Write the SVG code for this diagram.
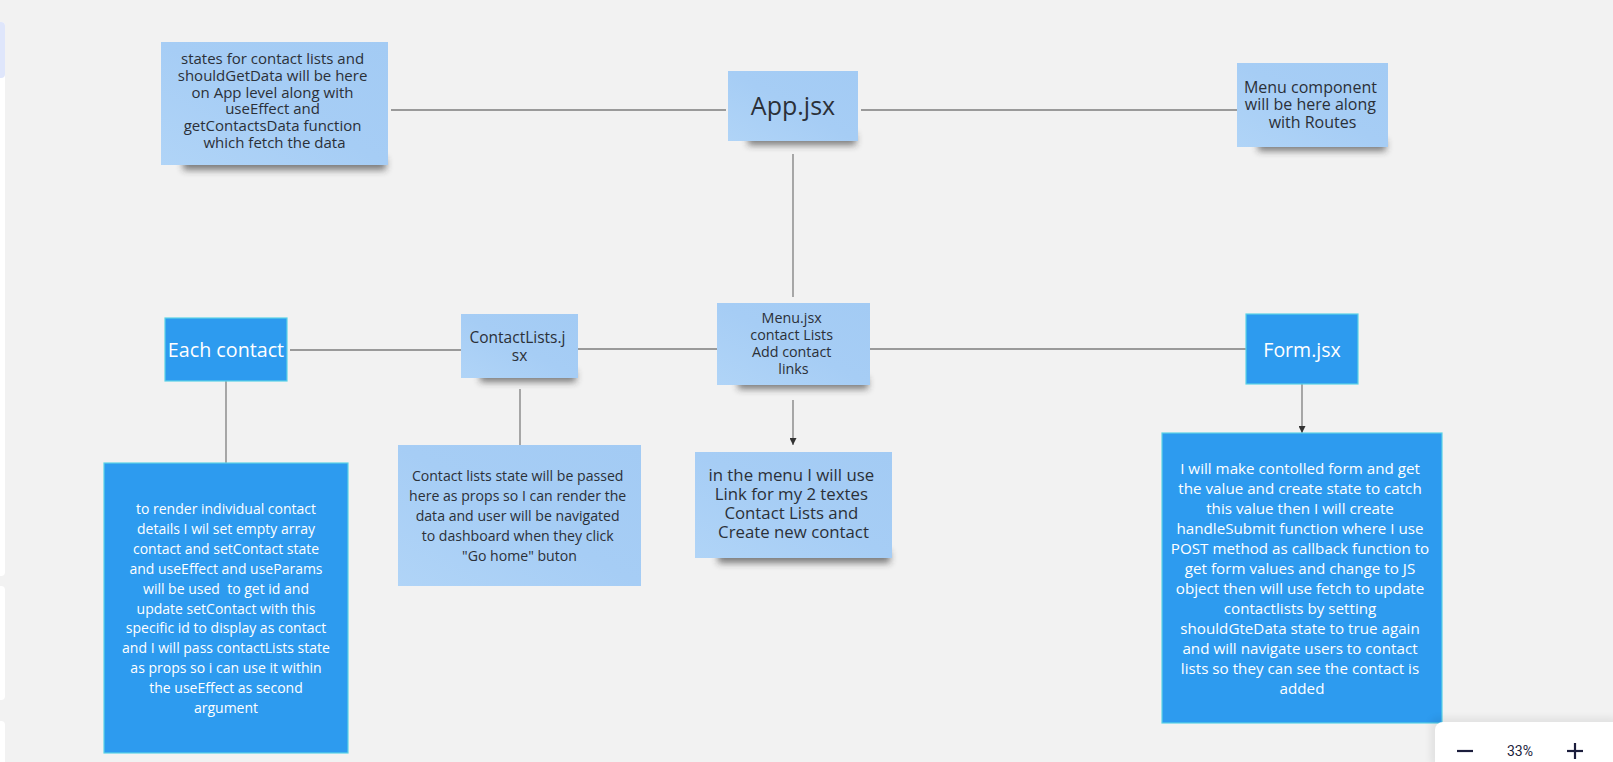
<svg xmlns="http://www.w3.org/2000/svg" width="1613" height="762" viewBox="0 0 1613 762">
  <defs>
    <style>
      .card { fill: #2d9bef; stroke: #5ad3e6; stroke-width: 1.2; }
      .t { font-family: "Open Sans", "Noto Sans", sans-serif; text-anchor: middle; fill: #2b3038; }
      .w { fill: #ffffff; }
      .wire { stroke: #7d7d7d; stroke-width: 1.3; fill: none; }
      .shadow { fill: #2a2a2a; opacity: 0.6; filter: url(#soft); }
    </style>
    <filter id="soft" x="-20%" y="-100%" width="140%" height="300%">
      <feGaussianBlur stdDeviation="3.5"/>
    </filter>
    <linearGradient id="noteShade" x1="0" y1="1" x2="1" y2="0">
      <stop offset="0" stop-color="#b0d4f7"/>
      <stop offset="0.5" stop-color="#a6cdf5"/>
      <stop offset="1" stop-color="#a3cbf4"/>
    </linearGradient>
    <marker id="arrow" viewBox="0 0 8 8" refX="8" refY="4" markerWidth="7" markerHeight="7" markerUnits="userSpaceOnUse" orient="auto">
      <path d="M0,0 L8,4 L0,8 z" fill="#333"/>
    </marker>
  </defs>

  <!-- canvas -->
  <rect x="0" y="0" width="1613" height="762" fill="#f2f2f2"/>

  <!-- left toolbar edge -->
  <g id="toolbar-edge">
    <rect x="-6" y="22" width="11" height="554" rx="4" fill="#ffffff"/>
    <rect x="-6" y="22" width="11" height="56" rx="4" fill="#dfe6fb"/>
    <rect x="-6" y="586" width="11" height="114" rx="4" fill="#ffffff"/>
    <rect x="-6" y="721" width="11" height="50" rx="4" fill="#ffffff"/>
  </g>

  <!-- connectors -->
  <g id="connectors">
    <line class="wire" x1="391" y1="110" x2="726" y2="110"/>
    <line class="wire" x1="861" y1="110" x2="1237" y2="110"/>
    <line class="wire" x1="793" y1="154" x2="793" y2="297"/>
    <line class="wire" x1="290" y1="350" x2="461" y2="350"/>
    <line class="wire" x1="578" y1="349" x2="717" y2="349"/>
    <line class="wire" x1="870" y1="349" x2="1246" y2="349"/>
    <line class="wire" x1="226" y1="381" x2="226" y2="463"/>
    <line class="wire" x1="520" y1="389" x2="520" y2="445"/>
    <line class="wire" x1="793" y1="400" x2="793" y2="445" marker-end="url(#arrow)"/>
    <line class="wire" x1="1302" y1="384" x2="1302" y2="433" marker-end="url(#arrow)"/>
  </g>

  <!-- App-level state note -->
  <g id="app-state-note">
    <rect class="shadow" x="183" y="158" width="203" height="12"/>
    <rect x="161" y="42" width="227" height="123" fill="url(#noteShade)"/>
    <text class="t" font-size="15">
      <tspan x="274.5" y="64">states for contact lists and</tspan>
      <tspan x="274.5" y="80.8">shouldGetData will be here</tspan>
      <tspan x="274.5" y="97.6">on App level along with</tspan>
      <tspan x="274.5" y="114.4">useEffect and</tspan>
      <tspan x="274.5" y="131.2">getContactsData function</tspan>
      <tspan x="274.5" y="148">which fetch the data</tspan>
    </text>
  </g>

  <!-- App.jsx -->
  <g id="app-jsx">
    <rect class="shadow" x="748" y="134" width="108" height="11"/>
    <rect x="728" y="71" width="130" height="70" fill="url(#noteShade)"/>
    <text class="t" font-size="25" x="793" y="115">App.jsx</text>
  </g>

  <!-- Menu component note -->
  <g id="menu-component-note">
    <rect class="shadow" x="1258" y="140" width="128" height="11"/>
    <rect x="1237" y="63" width="151" height="84" fill="url(#noteShade)"/>
    <text class="t" font-size="16">
      <tspan x="1312.5" y="92.5">Menu component</tspan>
      <tspan x="1312.5" y="110">will be here along</tspan>
      <tspan x="1312.5" y="127.5">with Routes</tspan>
    </text>
  </g>

  <!-- Each contact -->
  <g id="each-contact">
    <rect class="card" x="165" y="318" width="122" height="63"/>
    <text class="t w" font-size="19.7" x="226" y="357">Each contact</text>
  </g>

  <!-- ContactLists.jsx -->
  <g id="contact-lists-jsx">
    <rect class="shadow" x="480" y="371" width="96" height="11"/>
    <rect x="461" y="314" width="117" height="64" fill="url(#noteShade)"/>
    <text class="t" font-size="15.5">
      <tspan x="519.5" y="343">ContactLists.j</tspan>
      <tspan x="519.5" y="360.5">sx</tspan>
    </text>
  </g>

  <!-- Menu.jsx -->
  <g id="menu-jsx">
    <rect class="shadow" x="738" y="378" width="130" height="11"/>
    <rect x="717" y="303" width="153" height="82" fill="url(#noteShade)"/>
    <text class="t" font-size="14.3">
      <tspan x="793.5" y="323">Menu.jsx</tspan>
      <tspan x="793.5" y="340">contact Lists</tspan>
      <tspan x="793.5" y="357">Add contact</tspan>
      <tspan x="793.5" y="374">links</tspan>
    </text>
  </g>

  <!-- Form.jsx -->
  <g id="form-jsx">
    <rect class="card" x="1246" y="314" width="112" height="70"/>
    <text class="t w" font-size="19.5" x="1302" y="357">Form.jsx</text>
  </g>

  <!-- Each contact details -->
  <g id="each-contact-details">
    <rect class="card" x="104" y="463" width="244" height="290"/>
    <text class="t w" font-size="14" xml:space="preserve"><tspan x="226" y="514">to render individual contact</tspan><tspan x="226" y="533.9">details I wil set empty array</tspan><tspan x="226" y="553.8">contact and setContact state</tspan><tspan x="226" y="573.7">and useEffect and useParams</tspan><tspan x="226" y="593.6">will be used  to get id and</tspan><tspan x="226" y="613.5">update setContact with this</tspan><tspan x="226" y="633.4">specific id to display as contact</tspan><tspan x="226" y="653.3">and I will pass contactLists state</tspan><tspan x="226" y="673.2">as props so i can use it within</tspan><tspan x="226" y="693.1">the useEffect as second</tspan><tspan x="226" y="713">argument</tspan></text>
  </g>

  <!-- ContactLists details -->
  <g id="contact-lists-details">
    <rect x="398" y="445" width="243" height="141" fill="url(#noteShade)"/>
    <text class="t" font-size="14.1">
      <tspan x="519.5" y="481">Contact lists state will be passed</tspan>
      <tspan x="519.5" y="501">here as props so I can render the</tspan>
      <tspan x="519.5" y="521">data and user will be navigated</tspan>
      <tspan x="519.5" y="541">to dashboard when they click</tspan>
      <tspan x="519.5" y="561">"Go home" buton</tspan>
    </text>
  </g>

  <!-- Menu details -->
  <g id="menu-details">
    <rect class="shadow" x="718" y="551" width="172" height="12"/>
    <rect x="695" y="452" width="197" height="106" fill="url(#noteShade)"/>
    <text class="t" font-size="16.8">
      <tspan x="793.5" y="481">in the menu I will use</tspan>
      <tspan x="793.5" y="500">Link for my 2 textes</tspan>
      <tspan x="793.5" y="519">Contact Lists and</tspan>
      <tspan x="793.5" y="538">Create new contact</tspan>
    </text>
  </g>

  <!-- Form details -->
  <g id="form-details">
    <rect class="card" x="1162" y="433" width="280" height="290"/>
    <text class="t w" font-size="15.2">
      <tspan x="1302" y="473.5">I will make contolled form and get</tspan>
      <tspan x="1302" y="493.5">the value and create state to catch</tspan>
      <tspan x="1302" y="513.5">this value then I will create</tspan>
      <tspan x="1302" y="533.5">handleSubmit function where I use</tspan>
      <tspan x="1302" y="553.5">POST method as callback function to</tspan>
      <tspan x="1302" y="573.5">get form values and change to JS</tspan>
      <tspan x="1302" y="593.5">object then will use fetch to update</tspan>
      <tspan x="1302" y="613.5">contactlists by setting</tspan>
      <tspan x="1302" y="633.5">shouldGteData state to true again</tspan>
      <tspan x="1302" y="653.5">and will navigate users to contact</tspan>
      <tspan x="1302" y="673.5">lists so they can see the contact is</tspan>
      <tspan x="1302" y="693.5">added</tspan>
    </text>
  </g>

  <!-- zoom control -->
  <g id="zoom-control">
    <rect x="1430" y="717" width="190" height="50" rx="8" fill="#000" opacity="0.06" filter="url(#soft)"/>
    <rect x="1435" y="722" width="190" height="50" rx="8" fill="#ffffff"/>
    <line x1="1457" y1="751" x2="1473" y2="751" stroke="#1b1d3c" stroke-width="2.2"/>
    <text x="1520" y="756" font-family="Roboto, 'Open Sans', sans-serif" font-size="14" fill="#1b1d3c" text-anchor="middle">33%</text>
    <line x1="1567" y1="751" x2="1583" y2="751" stroke="#1b1d3c" stroke-width="2.2"/>
    <line x1="1575" y1="743" x2="1575" y2="759" stroke="#1b1d3c" stroke-width="2.2"/>
  </g>
</svg>
